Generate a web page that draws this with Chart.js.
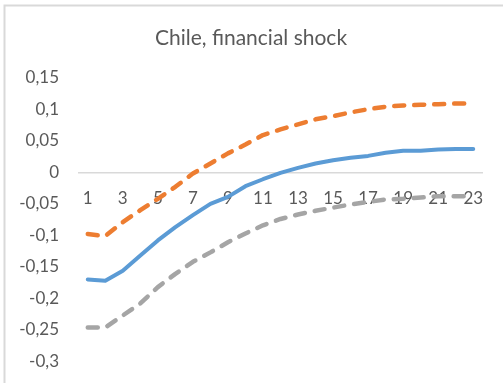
<!DOCTYPE html>
<html>
<head>
<meta charset="utf-8">
<script src="https://cdn.jsdelivr.net/npm/chart.js@4/dist/chart.umd.min.js"></script>
<style>
html,body{margin:0;padding:0;background:#fff;}
canvas{display:block;}
</style>
</head>
<body>
<canvas id="c" width="503" height="383"></canvas>
<script>
const titleText = "Chile, financial shock";
const categories = ["1","2","3","4","5","6","7","8","9","10","11","12","13","14","15","16","17","18","19","20","21","22","23"];
const median = [-0.170,-0.172,-0.156,-0.132,-0.108,-0.087,-0.068,-0.050,-0.039,-0.022,-0.011,-0.001,0.007,0.014,0.019,0.023,0.026,0.031,0.034,0.034,0.036,0.037,0.037];
const upper = [-0.098,-0.101,-0.079,-0.060,-0.042,-0.023,-0.002,0.014,0.030,0.044,0.059,0.068,0.076,0.084,0.089,0.095,0.100,0.104,0.106,0.107,0.108,0.109,0.109];
const lower = [-0.246,-0.246,-0.227,-0.208,-0.182,-0.161,-0.142,-0.127,-0.111,-0.097,-0.084,-0.074,-0.067,-0.061,-0.056,-0.051,-0.047,-0.043,-0.042,-0.040,-0.038,-0.038,-0.038];
const yMin = -0.3, yMax = 0.15, yStep = 0.05;

const FONT = "Lato";
const TXT = "#595959";

const borderPlugin = {
  id: 'frame',
  beforeDraw(chart) {
    const ctx = chart.ctx;
    ctx.save();
    ctx.fillStyle = '#fff';
    ctx.fillRect(0, 0, chart.width, chart.height);
    ctx.strokeStyle = '#d9d9d9';
    ctx.lineWidth = 2;
    ctx.strokeRect(4.5, 5.5, 700, 700);
    ctx.restore();
  }
};

new Chart(document.getElementById('c'), {
  type: 'line',
  data: {
    labels: categories,
    datasets: [
      { label: 'median', data: median, borderColor: '#5B9BD5', borderWidth: 4, pointRadius: 0, tension: 0, borderJoinStyle: 'round', borderCapStyle: 'round', fill: false },
      { label: 'upper', data: upper, borderColor: '#ED7D31', borderWidth: 4.5, borderDash: [10, 10], pointRadius: 0, tension: 0, borderJoinStyle: 'round', borderCapStyle: 'round', fill: false },
      { label: 'lower', data: lower, borderColor: '#A5A5A5', borderWidth: 4.5, borderDash: [10, 10], pointRadius: 0, tension: 0, borderJoinStyle: 'round', borderCapStyle: 'round', fill: false }
    ]
  },
  options: {
    responsive: false,
    animation: false,
    layout: { padding: { left: 20, right: 21, top: 0, bottom: 21.5 } },
    plugins: {
      legend: { display: false },
      tooltip: { enabled: false },
      title: {
        display: true,
        text: titleText,
        color: TXT,
        font: { family: FONT, size: 21, weight: 'normal', lineHeight: 1.2 },
        padding: { top: 25.5, bottom: 27 }
      }
    },
    scales: {
      x: {
        type: 'category',
        position: { y: 0 },
        offset: true,
        grid: { display: false, drawTicks: false },
        border: { display: true, color: '#d9d9d9', width: 1.5 },
        ticks: {
          autoSkip: false,
          maxRotation: 0,
          padding: 16,
          color: TXT,
          font: { family: FONT, size: 17 },
          callback: function(v, i) { return i % 2 === 0 ? categories[i] : ''; }
        },
        afterFit(scale) { scale.height = 0; scale.paddingLeft = 0; scale.paddingRight = 0; }
      },
      y: {
        min: yMin,
        max: yMax,
        grid: { display: false, drawTicks: false },
        border: { display: false },
        ticks: {
          stepSize: yStep,
          padding: 20,
          color: TXT,
          font: { family: FONT, size: 17 },
          callback: function(v) { return String(Math.round(v * 100) / 100).replace('.', ','); }
        },
        afterFit(scale) { scale.width = 59; scale.paddingTop = 0; scale.paddingBottom = 0; }
      }
    }
  },
  plugins: [borderPlugin]
});
</script>
</body>
</html>
